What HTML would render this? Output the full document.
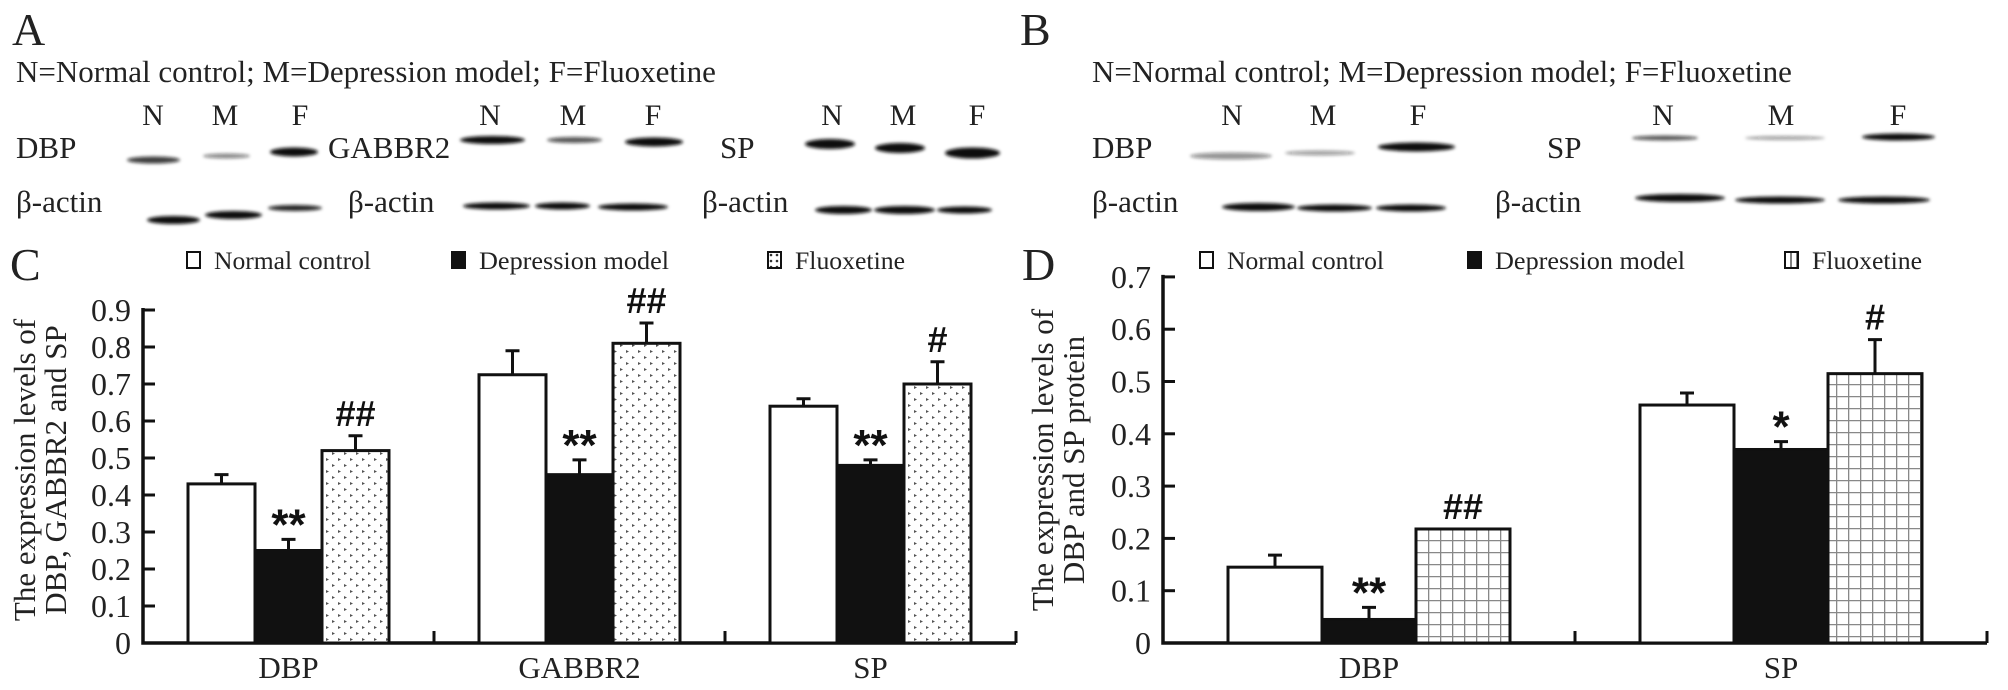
<!DOCTYPE html>
<html><head><meta charset="utf-8"><style>
html,body{margin:0;padding:0;background:#fff;}
svg{display:block;font-family:"Liberation Serif",serif;}
</style></head><body>
<svg id="fig" width="2008" height="690" viewBox="0 0 2008 690" xmlns="http://www.w3.org/2000/svg">
<defs>
<filter id="blur" x="-20%" y="-200%" width="140%" height="500%"><feGaussianBlur stdDeviation="1.6"/></filter>
<pattern id="dots" width="12" height="12" patternUnits="userSpaceOnUse">
<rect width="12" height="12" fill="#fff"/>
<path d="M2 2 l3 1.5 -3 1.5z M8 8 l3 1.5 -3 1.5z" fill="#555"/>
</pattern>
<pattern id="grid" width="12" height="12" patternUnits="userSpaceOnUse">
<rect width="12" height="12" fill="#fff"/>
<path d="M0 0.5 H12 M0.5 0 V12" stroke="#888" stroke-width="1.6"/>
</pattern>
<pattern id="dotsSmall" width="6" height="6" patternUnits="userSpaceOnUse">
<rect width="6" height="6" fill="#fff"/>
<circle cx="3" cy="3" r="1.3" fill="#333"/>
</pattern>
<pattern id="gridSmall" width="6" height="6" patternUnits="userSpaceOnUse">
<rect width="6" height="6" fill="#fff"/>
<path d="M3 0 V6" stroke="#555" stroke-width="1.5"/>
</pattern>
</defs>
<g font-size="31" fill="#222">
<text x="12" y="45" font-size="46">A</text>
<text x="16" y="82">N=Normal control; M=Depression model; F=Fluoxetine</text>
<text x="16" y="158">DBP</text>
<text x="328" y="158">GABBR2</text>
<text x="720" y="158">SP</text>
<text x="16" y="212">β-actin</text>
<text x="348" y="212">β-actin</text>
<text x="702" y="212">β-actin</text>
<g text-anchor="middle" font-size="30">
<text x="153" y="125">N</text><text x="225" y="125">M</text><text x="300" y="125">F</text>
<text x="490" y="125">N</text><text x="573" y="125">M</text><text x="653" y="125">F</text>
<text x="832" y="125">N</text><text x="903" y="125">M</text><text x="977" y="125">F</text>
</g>
</g>
<g font-size="31" fill="#222">
<text x="1020" y="45" font-size="46">B</text>
<text x="1092" y="82">N=Normal control; M=Depression model; F=Fluoxetine</text>
<text x="1092" y="158">DBP</text>
<text x="1547" y="158">SP</text>
<text x="1092" y="212">β-actin</text>
<text x="1495" y="212">β-actin</text>
<g text-anchor="middle" font-size="30">
<text x="1232" y="125">N</text><text x="1323" y="125">M</text><text x="1418" y="125">F</text>
<text x="1663" y="125">N</text><text x="1781" y="125">M</text><text x="1898" y="125">F</text>
</g>
</g>
<g id="blots"></g>
<g id="chartC"></g>
<g id="chartD"></g>
</svg>
<script>
// Chart C data
const catsC = ["DBP", "GABBR2", "SP"];
const normalC = [0.43, 0.725, 0.64];
const normalErrC = [0.025, 0.065, 0.02];
const depC = [0.25, 0.455, 0.48];
const depErrC = [0.03, 0.04, 0.015];
const fluoC = [0.52, 0.81, 0.70];
const fluoErrC = [0.04, 0.055, 0.06];
const depMarkC = ["**", "**", "**"];
const fluoMarkC = ["##", "##", "#"];
const ticksC = ["0", "0.1", "0.2", "0.3", "0.4", "0.5", "0.6", "0.7", "0.8", "0.9"];
// Chart D data
const catsD = ["DBP", "SP"];
const normalD = [0.145, 0.455];
const normalErrD = [0.023, 0.023];
const depD = [0.045, 0.37];
const depErrD = [0.023, 0.015];
const fluoD = [0.218, 0.515];
const fluoErrD = [0, 0.065];
const depMarkD = ["**", "*"];
const fluoMarkD = ["##", "#"];
const ticksD = ["0", "0.1", "0.2", "0.3", "0.4", "0.5", "0.6", "0.7"];

const NS = "http://www.w3.org/2000/svg";
function mk(parent, tag, attrs, text) {
  const e = document.createElementNS(NS, tag);
  for (const k in attrs) e.setAttribute(k, attrs[k]);
  if (text !== undefined) e.textContent = text;
  parent.appendChild(e);
  return e;
}

const blots = document.getElementById('blots');
const bands = [
  [127,180,160,5,0.8],[203,250,156,3,0.5],[270,318,152,7,1],
  [147,200,220,6,1],[205,262,215,6,1],[268,322,208,4,0.9],
  [460,525,140,6,1],[547,602,140,4,0.7],[625,683,142,7,1],
  [463,530,206,5,1],[535,590,206,5,1],[598,668,207,5,1],
  [805,855,144,8,1],[875,925,148,8,1],[945,1000,153,9,1],
  [815,872,210,6,1],[874,935,210,6,1],[937,992,210,5,1],
  [1190,1272,156,5,0.45],[1285,1355,153,3,0.4],[1378,1455,147,7,1],
  [1222,1295,207,6,1],[1297,1372,208,5,1],[1376,1446,208,5,1],
  [1632,1698,138,3,0.7],[1745,1825,138,2,0.4],[1862,1935,137,5,1],
  [1635,1725,198,6,1],[1735,1825,200,5,1],[1838,1930,200,5,1]
];
bands.forEach(function(b){
  const el = mk(blots,'ellipse',{cx:(b[0]+b[1])/2, cy:b[2], rx:(b[1]-b[0])/2, ry:b[3]/2+1, fill:'#111', 'fill-opacity':b[4], filter:'url(#blur)'});
  
  
});

function legend(g, y, items) {
  items.forEach(function(it){
    const r = mk(g,'rect',{x:it.x, y:y-8, width:13, height:16, fill:it.fill, stroke:'#111', 'stroke-width':2});
    
    
    const t = mk(g,'text',{x:it.x+27, y:y+9, 'font-size':25, fill:'#222', textLength:it.w, lengthAdjust:'spacingAndGlyphs'}, it.label);
    
    
  });
}

function drawChart(cfg) {
  const g = document.getElementById(cfg.id);
  const y = v => cfg.y0 - v * cfg.pxPerUnit;
  const groupW = (cfg.xEnd - cfg.x0) / cfg.cats.length;
  const ax = mk(g,'path',{d:'M'+cfg.x0+' '+(y(cfg.yMax)-2)+' V'+cfg.y0+' H'+cfg.xEnd, stroke:'#111', 'stroke-width':3.5, fill:'none'});
  
  
  cfg.ticks.forEach(function(lbl){
    const v = parseFloat(lbl);
    const tk = mk(g,'line',{x1:cfg.x0, x2:cfg.x0+12, y1:y(v), y2:y(v), stroke:'#111','stroke-width':3});
    
    
    const tl = mk(g,'text',{x:cfg.x0-12, y:y(v)+11, 'text-anchor':'end','font-size':32, fill:'#222'}, lbl);
    
    
  });
  cfg.cats.forEach(function(c, i){
    const gx = cfg.x0 + groupW*(i+1);
    const gt = mk(g,'line',{x1:gx, x2:gx, y1:cfg.y0, y2:cfg.y0-12, stroke:'#111','stroke-width':3});
    
    
    const cx = cfg.x0 + groupW*(i+0.5);
    const cl = mk(g,'text',{x:cx, y:cfg.y0+35, 'text-anchor':'middle','font-size':31, fill:'#222'}, c);
    
    
    const series = [
      {v:cfg.normal[i], e:cfg.normalErr[i], fill:'#fff', m:''},
      {v:cfg.dep[i], e:cfg.depErr[i], fill:'#111', m:cfg.depMark[i]},
      {v:cfg.fluo[i], e:cfg.fluoErr[i], fill:cfg.fluoFill, m:cfg.fluoMark[i]}
    ];
    series.forEach(function(s, j){
      const bx = cx - 1.5*cfg.barW + j*cfg.barW;
      const bar = mk(g,'rect',{x:bx, y:y(s.v), width:cfg.barW, height:cfg.y0-y(s.v), fill:s.fill, stroke:'#111','stroke-width':3});
      
      
      const mx = bx + cfg.barW/2;
      const top = y(s.v + s.e);
      if (s.e > 0) {
        const eb = mk(g,'path',{d:'M'+mx+' '+y(s.v)+' V'+top+' M'+(mx-7)+' '+top+' H'+(mx+7), stroke:'#111','stroke-width':3, fill:'none'});
        
        
      }
      if (s.m) {
        const star = s.m.indexOf('*') >= 0;
        const an = mk(g,'text',{x:mx, y:top - (star ? 0 : 10), 'text-anchor':'middle','font-size': star ? 44 : 36,'font-weight':'bold', fill:'#111', 'font-family':'"Liberation Sans",sans-serif'}, s.m);
        
        
      }
    });
  });
  const tt = mk(g,'text',{transform:'translate('+cfg.titleX+','+cfg.titleY+') rotate(-90)','text-anchor':'middle','font-size':31, fill:'#222'});
  
  
  mk(tt,'tspan',{x:0, y:0}, cfg.title1);
  mk(tt,'tspan',{x:0, y:31}, cfg.title2);
  const L = mk(g,'text',{x:cfg.letterX, y:280, 'font-size':46, fill:'#222'}, cfg.letter);
  
  
  legend(g, 260, cfg.legend);
}

drawChart({id:'chartC', cats:catsC, normal:normalC, normalErr:normalErrC, dep:depC, depErr:depErrC,
  fluo:fluoC, fluoErr:fluoErrC, depMark:depMarkC, fluoMark:fluoMarkC, ticks:ticksC,
  x0:143, xEnd:1016, y0:643, pxPerUnit:370, yMax:0.9, barW:67, fluoFill:'url(#dots)',
  titleX:35, titleY:470, title1:'The expression levels of', title2:'DBP, GABBR2 and SP',
  letter:'C', letterX:10,
  legend:[{x:187,label:'Normal control',w:157,fill:'#fff'},{x:452,label:'Depression model',w:190,fill:'#111'},{x:768,label:'Fluoxetine',w:110,fill:'url(#dotsSmall)'}]});
drawChart({id:'chartD', cats:catsD, normal:normalD, normalErr:normalErrD, dep:depD, depErr:depErrD,
  fluo:fluoD, fluoErr:fluoErrD, depMark:depMarkD, fluoMark:fluoMarkD, ticks:ticksD,
  x0:1163, xEnd:1987, y0:643, pxPerUnit:523, yMax:0.7, barW:94, fluoFill:'url(#grid)',
  titleX:1053, titleY:460, title1:'The expression levels of', title2:'DBP and SP protein',
  letter:'D', letterX:1022,
  legend:[{x:1200,label:'Normal control',w:157,fill:'#fff'},{x:1468,label:'Depression model',w:190,fill:'#111'},{x:1785,label:'Fluoxetine',w:110,fill:'url(#gridSmall)'}]});
</script>
</body></html>
